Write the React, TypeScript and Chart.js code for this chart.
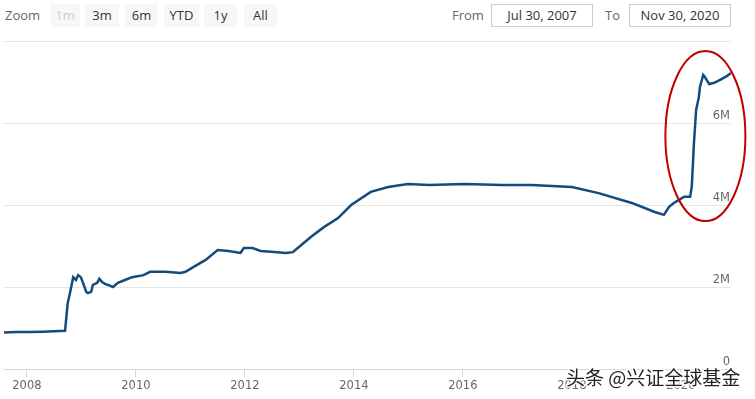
import React, { useEffect, useRef } from "react";
import { Chart, registerables } from "chart.js";

Chart.register(...registerables);

// Fed balance sheet total assets, in M (millions of millions USD as labelled on the chart)
const years: number[] = [
  2007.58, 2007.8, 2008.06, 2008.3, 2008.5, 2008.7, 2008.75, 2008.79, 2008.85, 2008.9,
  2008.94, 2008.99, 2009.03, 2009.09, 2009.12, 2009.18, 2009.21, 2009.29, 2009.33, 2009.38,
  2009.44, 2009.49, 2009.58, 2009.67, 2009.8, 2009.93, 2010.14, 2010.26, 2010.54, 2010.82,
  2010.91, 2011.06, 2011.28, 2011.5, 2011.7, 2011.92, 2011.98, 2012.14, 2012.29, 2012.6,
  2012.75, 2012.88, 2012.97, 2013.21, 2013.45, 2013.71, 2013.95, 2014.31, 2014.63, 2014.99,
  2015.38, 2016.03, 2016.71, 2017.26, 2018.0, 2018.49, 2019.1, 2019.52, 2019.69, 2019.78,
  2019.87, 2019.96, 2020.06, 2020.17, 2020.2, 2020.24, 2020.28, 2020.33, 2020.35, 2020.41,
  2020.44, 2020.52, 2020.61, 2020.72, 2020.85, 2020.92,
];
const values: number[] = [
  0.89, 0.9, 0.9, 0.91, 0.92, 0.93, 1.61, 1.85, 2.24, 2.17,
  2.29, 2.24, 2.1, 1.88, 1.85, 1.88, 2.05, 2.1, 2.2, 2.12,
  2.07, 2.05, 2.0, 2.1, 2.17, 2.24, 2.29, 2.37, 2.37, 2.34,
  2.37, 2.49, 2.66, 2.9, 2.88, 2.83, 2.95, 2.95, 2.88, 2.85,
  2.83, 2.85, 2.95, 3.22, 3.46, 3.68, 4.0, 4.32, 4.44, 4.51,
  4.49, 4.51, 4.49, 4.49, 4.44, 4.29, 4.05, 3.83, 3.76, 3.95,
  4.05, 4.12, 4.2, 4.2, 4.44, 5.51, 6.32, 6.63, 6.88, 7.17,
  7.12, 6.95, 6.98, 7.05, 7.15, 7.22,
];
const xTicks: number[] = [2008, 2010, 2012, 2014, 2016, 2018, 2020];
const yTicks: number[] = [0, 2, 4, 6, 8];
const zoomButtons: string[] = ["1m", "3m", "6m", "YTD", "1y", "All"];
const fromDate = "Jul 30, 2007";
const toDate = "Nov 30, 2020";
const watermark = "头条 @兴证全球基金";

const uiFont = "'Open Sans', 'DejaVu Sans', sans-serif";

const buttonBoxes: { left: number; width: number }[] = [
  { left: 50, width: 30 },
  { left: 85, width: 34 },
  { left: 125, width: 33 },
  { left: 164, width: 35 },
  { left: 204, width: 33 },
  { left: 244, width: 33 },
];

const overlayPlugin = {
  id: "overlay",
  afterDraw(chart: any) {
    const ctx = chart.ctx as CanvasRenderingContext2D;
    const xs = chart.scales.x;
    const ys = chart.scales.y;
    // red ellipse annotation around the 2020 surge
    const cx = xs.getPixelForValue(2020.45);
    const cy = ys.getPixelForValue(5.68);
    ctx.save();
    ctx.beginPath();
    ctx.ellipse(cx, cy, 40, 85, 0, 0, Math.PI * 2);
    ctx.strokeStyle = "#c00000";
    ctx.lineWidth = 2;
    ctx.stroke();
    ctx.restore();

    // watermark
    ctx.save();
    ctx.font = "19px 'Noto Sans CJK SC', sans-serif";
    ctx.textBaseline = "middle";
    ctx.textAlign = "left";
    ctx.lineJoin = "round";
    ctx.strokeStyle = "rgba(255,255,255,0.95)";
    ctx.lineWidth = 3;
    ctx.strokeText(watermark, 566, 378);
    ctx.fillStyle = "#222222";
    ctx.fillText(watermark, 566, 378);
    ctx.restore();
  },
};

export default function App() {
  const canvasRef = useRef<HTMLCanvasElement | null>(null);

  useEffect(() => {
    document.body.style.margin = "0";
    const canvas = canvasRef.current;
    if (!canvas) return;
    const chart = new Chart(canvas, {
      type: "line",
      data: {
        datasets: [
          {
            data: years.map((x, i) => ({ x, y: values[i] })),
            borderColor: "#144b7d",
            borderWidth: 2.5,
            pointRadius: 0,
            tension: 0,
            fill: false,
          },
        ],
      },
      options: {
        animation: false,
        responsive: false,
        maintainAspectRatio: false,
        devicePixelRatio: 1,
        layout: { padding: { left: 4, right: 24, top: 41, bottom: 0 } },
        plugins: { legend: { display: false }, tooltip: { enabled: false } },
        scales: {
          x: {
            type: "linear",
            min: 2007.58,
            max: 2020.92,
            afterBuildTicks: (scale: any) => {
              scale.ticks = xTicks.map((v) => ({ value: v }));
            },
            afterFit: (scale: any) => {
              scale.height = 30;
            },
            grid: {
              drawOnChartArea: false,
              drawTicks: true,
              tickLength: 8,
              color: "#ccd6eb",
            },
            border: { display: true, color: "#ccd6eb", width: 1 },
            ticks: {
              color: "#666666",
              padding: 2,
              maxRotation: 0,
              autoSkip: false,
              font: { family: "'DejaVu Sans', sans-serif", size: 11.5 },
              callback: (v: any) => String(v),
            },
          },
          y: {
            type: "linear",
            position: "right",
            min: 0,
            max: 8,
            afterBuildTicks: (scale: any) => {
              scale.ticks = yTicks.map((v) => ({ value: v }));
            },
            afterFit: (scale: any) => {
              scale.width = 0;
            },
            grid: {
              drawTicks: false,
              color: (c: any) => (c.tick && c.tick.value === 0 ? "rgba(0,0,0,0)" : "#e6e6e6"),
              lineWidth: 1,
            },
            border: { display: false },
            ticks: {
              mirror: true,
              padding: -1,
              labelOffset: -7,
              color: "#666666",
              font: { family: "'DejaVu Sans', sans-serif", size: 11.5 },
              callback: (v: any) => (v === 8 ? "" : v === 0 ? "0" : `${v}M`),
            },
          },
        },
      },
      plugins: [overlayPlugin],
    } as any);
    return () => chart.destroy();
  }, []);

  const textStyle: React.CSSProperties = {
    position: "absolute",
    fontFamily: uiFont,
    fontSize: 13,
    color: "#666666",
    top: 4,
    height: 23,
    lineHeight: "23px",
  };

  return (
    <div style={{ position: "relative", width: 755, height: 399, background: "#ffffff", overflow: "hidden" }}>
      <div style={{ ...textStyle, left: 5 }}>Zoom</div>
      {zoomButtons.map((b, i) => (
        <div
          key={b}
          style={{
            ...textStyle,
            left: buttonBoxes[i].left,
            width: buttonBoxes[i].width,
            background: "#f7f7f7",
            textAlign: "center",
            color: i === 0 ? "#cccccc" : "#333333",
          }}
        >
          {b}
        </div>
      ))}
      <div style={{ ...textStyle, left: 452 }}>From</div>
      <div
        style={{
          ...textStyle,
          left: 491,
          width: 100,
          height: 21,
          lineHeight: "21px",
          border: "1px solid #cccccc",
          textAlign: "center",
          color: "#333333",
        }}
      >
        {fromDate}
      </div>
      <div style={{ ...textStyle, left: 605 }}>To</div>
      <div
        style={{
          ...textStyle,
          left: 629,
          width: 100,
          height: 21,
          lineHeight: "21px",
          border: "1px solid #cccccc",
          textAlign: "center",
          color: "#333333",
        }}
      >
        {toDate}
      </div>
      <canvas
        ref={canvasRef}
        width={755}
        height={399}
        style={{ position: "absolute", left: 0, top: 0, width: 755, height: 399 }}
      />
    </div>
  );
}
